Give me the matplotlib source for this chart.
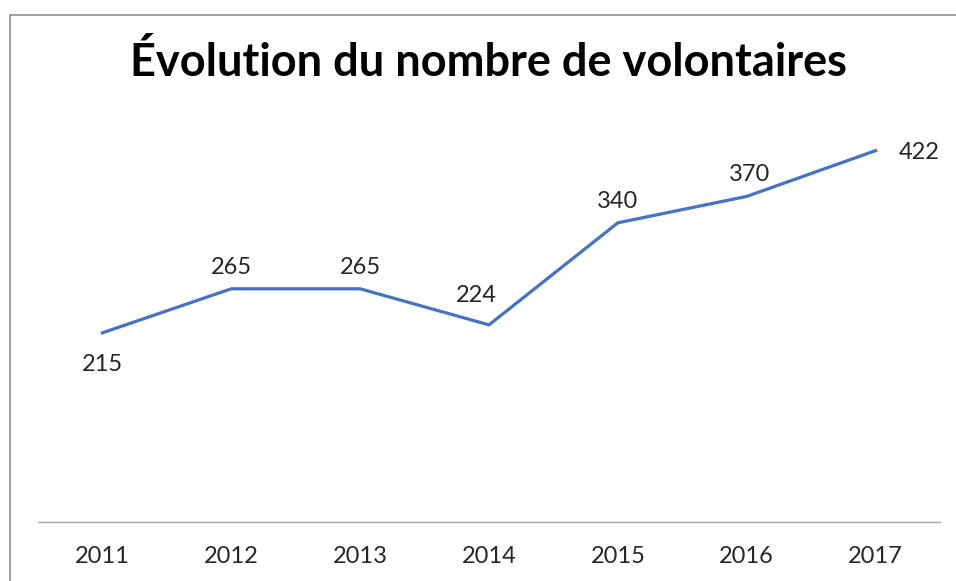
import matplotlib.pyplot as plt
from matplotlib.patches import Rectangle

# Data
years = ["2011", "2012", "2013", "2014", "2015", "2016", "2017"]
volunteers = [215, 265, 265, 224, 340, 370, 422]

# label offsets in points (dx, dy), alignment - mimics Excel auto placement
label_offsets = [(0, -23, "center"), (0, 15, "center"), (0, 15, "center"),
                 (-9, 21, "center"), (0, 15, "center"), (2, 16, "center"),
                 (17, -1, "left")]

plt.rcParams['font.family'] = ['Lato', 'DejaVu Sans']

fig = plt.figure(figsize=(9.56, 5.81), dpi=100)
ax = fig.add_axes([38 / 956, 59 / 581, 902 / 956, 396 / 581])

x = range(len(years))
ax.plot(x, volunteers, color='#4472C4', lw=2.3, solid_joinstyle='round')

for i, v in enumerate(volunteers):
    dx, dy, ha = label_offsets[i]
    ax.annotate(str(v), (i, v), xytext=(dx, dy), textcoords='offset points',
                ha=ha, va='center', fontsize=17, color='#262626')

ax.set_xlim(-0.5, len(years) - 0.5)
ax.set_ylim(0, 450)
ax.set_xticks(list(x))
ax.set_xticklabels(years, fontsize=17, color='#262626')
ax.tick_params(axis='x', length=0, pad=17)
ax.set_yticks([])
for side in ['top', 'right', 'left']:
    ax.spines[side].set_visible(False)
ax.spines['bottom'].set_color('#A6A6A6')
ax.spines['bottom'].set_linewidth(1)

fig.text(488 / 956, 1 - 63 / 581, "Évolution du nombre de volontaires",
         ha='center', va='center', fontsize=32.5, fontweight='bold', color='black')

# chart border (cropped on right and bottom)
fig.patches.append(Rectangle((9.5 / 956, -0.1), 1.2, 1 - 14.5 / 581 + 0.1,
                             transform=fig.transFigure, fill=False,
                             edgecolor='#8C8C8C', lw=1.2))

fig.savefig('out.png', dpi=100)
